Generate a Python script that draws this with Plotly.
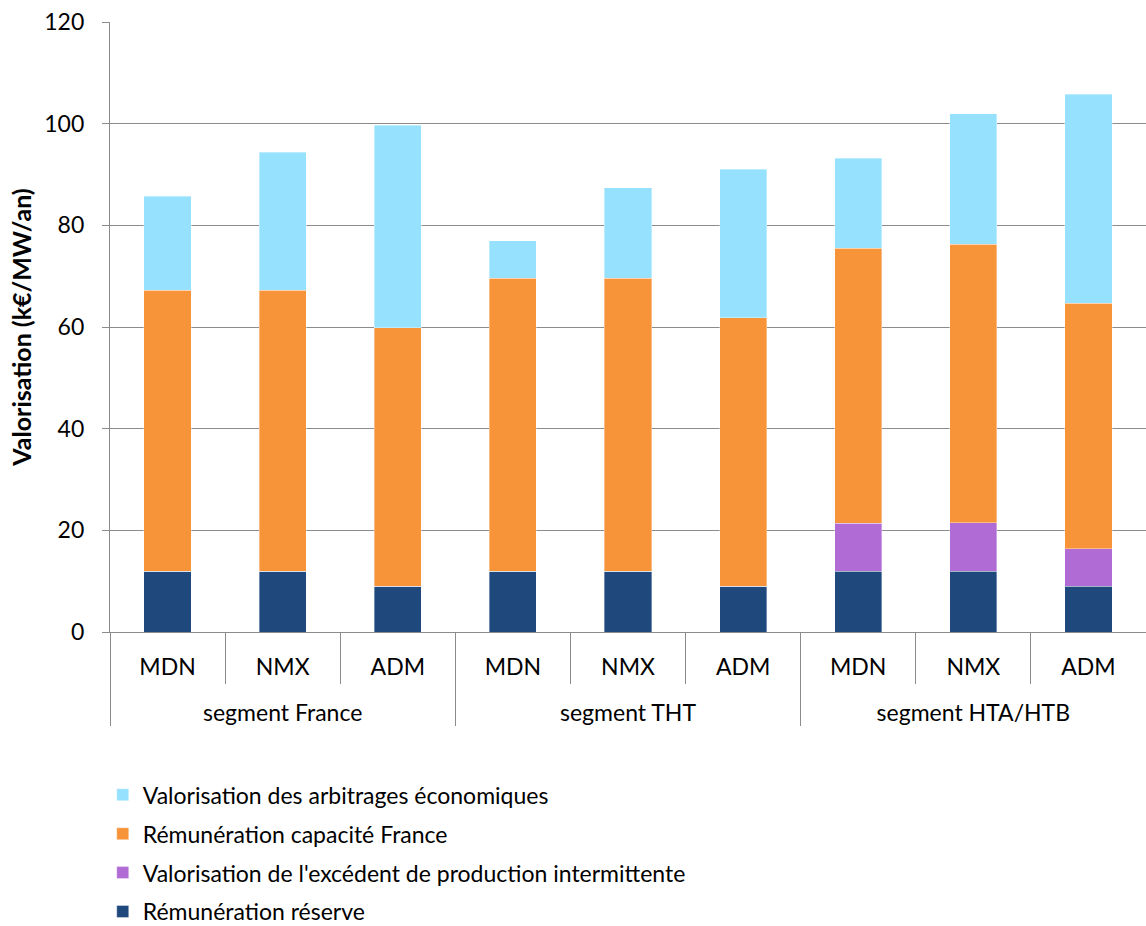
import plotly.graph_objects as go

segments = ["segment France"] * 3 + ["segment THT"] * 3 + ["segment HTA/HTB"] * 3
scenarios = ["MDN", "NMX", "ADM"] * 3
y_ticks = [0, 20, 40, 60, 80, 100, 120]

reserve = [12, 12, 9, 12, 12, 9, 12, 12, 9]
intermittent = [0, 0, 0, 0, 0, 0, 9.4, 9.5, 7.4]
capacite = [55.2, 55.2, 50.9, 57.6, 57.6, 52.8, 54.1, 54.8, 48.3]
arbitrages = [18.5, 27.2, 39.8, 7.4, 17.8, 29.2, 17.7, 25.7, 41.1]

series = [
    ("Rémunération réserve", reserve, "#1F497D", 4),
    ("Valorisation de l'excédent de production intermittente", intermittent, "#B06BD4", 3),
    ("Rémunération capacité France", capacite, "#F7943A", 2),
    ("Valorisation des arbitrages économiques", arbitrages, "#95E1FE", 1),
]

FONT = "Lato"
GRID = "#8C8C8C"
scen_labels = [s + "<br> " for s in scenarios]

fig = go.Figure()
for i, (name, vals, col, rank) in enumerate(series):
    fig.add_trace(go.Bar(
        x=[segments, scen_labels], y=vals, name=name,
        marker=dict(color=col, line=dict(color="rgba(255,255,255,0.6)", width=0.6)),
        legendgroup=f"g{i}", legendrank=rank,
    ))

fig.update_layout(
    width=1146, height=934,
    barmode="stack", bargap=0.59,
    plot_bgcolor="white", paper_bgcolor="white",
    margin=dict(l=110, r=0, t=22, b=302),
    font=dict(family=FONT, size=23, color="black"),
    showlegend=True,
    legend=dict(
        traceorder="grouped", tracegroupgap=6,
        x=-0.007, xanchor="left", y=-0.494, yanchor="bottom",
        font=dict(family=FONT, size=23, color="black"),
        itemwidth=30,
    ),
    yaxis=dict(
        range=[0, 120], tickmode="array", tickvals=y_ticks,
        showgrid=True, gridcolor=GRID, gridwidth=1.3,
        showline=True, linecolor=GRID, linewidth=1.3,
        ticks="outside", ticklen=7, tickcolor=GRID, tickwidth=1.3,
        tickfont=dict(family=FONT, size=23), ticklabelstandoff=13,
        title=dict(text="<b>Valorisation (k€/MW/an)</b>", font=dict(family=FONT, size=25), standoff=5),
        zeroline=False, automargin=False,
    ),
    xaxis=dict(
        type="multicategory", tickangle=0,
        showline=True, linecolor=GRID, linewidth=1.3,
        ticks="outside", ticklen=51, tickcolor=GRID, tickwidth=1.3,
        showdividers=True, dividercolor=GRID, dividerwidth=1.3,
        tickfont=dict(family=FONT, size=23), ticklabelstandoff=14,
        automargin=False,
    ),
)

fig.write_html(
    "out.html",
    config={"displayModeBar": False},
    post_script="document.body.style.margin='0';document.body.style.overflow='hidden';",
)
